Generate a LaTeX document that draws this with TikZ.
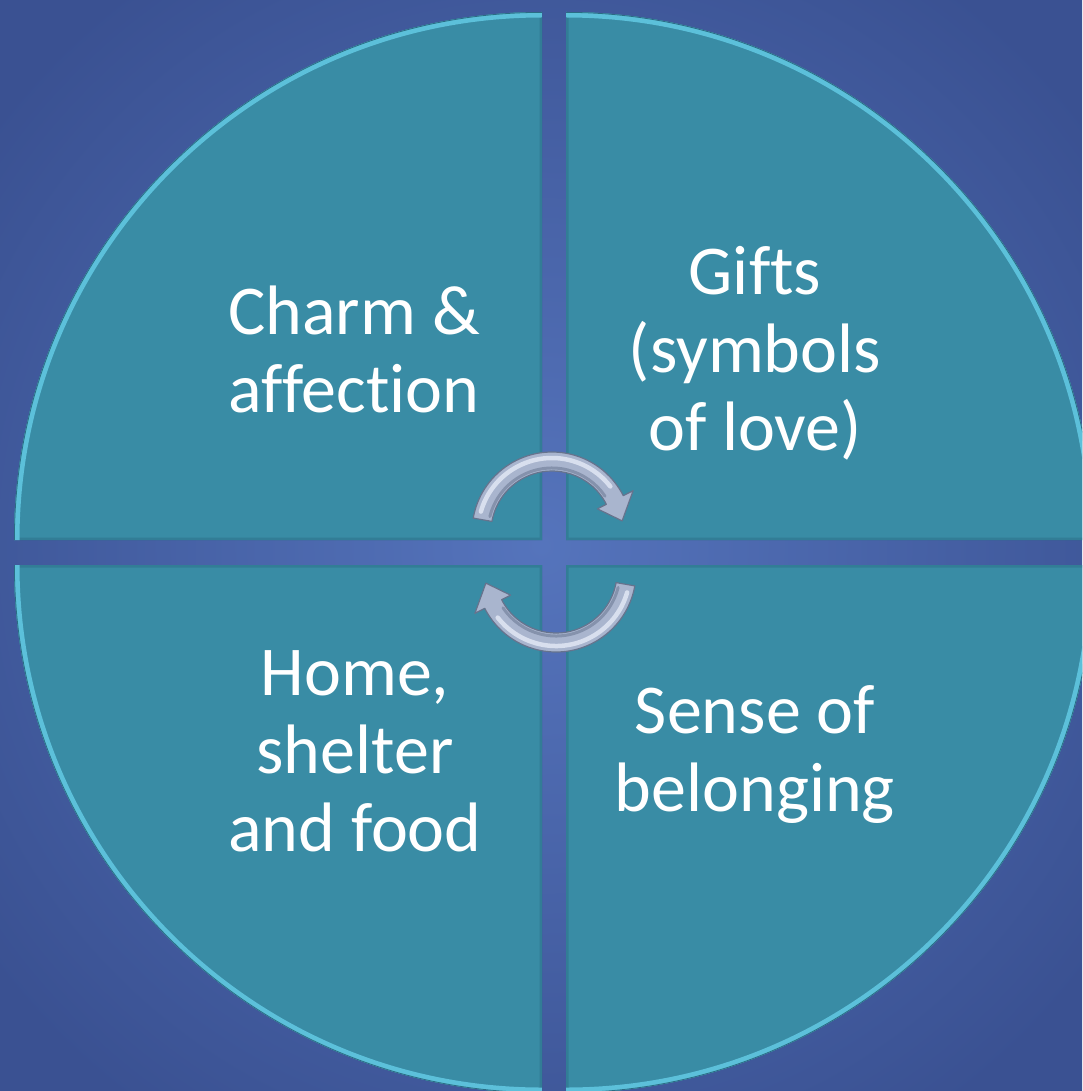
\documentclass[tikz,border=0pt]{standalone}
\usepackage{fontspec}
\setmainfont{Carlito}[Ligatures={NoCommon}]
\usetikzlibrary{calc}
\definecolor{bgin}{HTML}{5574BC}
\definecolor{bgout}{HTML}{3A5192}
\definecolor{quadc}{HTML}{398CA5}
\definecolor{rimc}{HTML}{5CC0DA}
\definecolor{edgec}{HTML}{2A6C84}
\definecolor{arrfill}{HTML}{A9B5CE}
\definecolor{arrhi}{HTML}{D8DFEE}
\definecolor{arrlo}{HTML}{8592AC}
\definecolor{arrline}{HTML}{66738D}
\begin{document}
\begin{tikzpicture}[x=1pt,y=-1pt,
  quadfill/.style={fill=quadc},
  qshadow/.style={fill=black,opacity=0.18},
  rimline/.style={draw=rimc,line width=11pt},
  rimedge/.style={draw=edgec,line width=1.6pt},
  flatedge/.style={draw=edgec,line width=5pt,opacity=0.45},
  qtext/.style={text=white,font=\fontsize{70}{78}\selectfont,align=center,anchor=base,inner sep=0pt},
  cyc/.style={fill=arrfill,draw=arrline,line width=1.2pt,line join=round},
  cychi/.style={draw=arrhi,line width=4.5pt,line cap=round},
  cyclo/.style={draw=arrlo,line width=3pt,line cap=round}]
\useasboundingbox (0,0) rectangle (1082,1091);
\clip (0,0) rectangle (1082,1091);
\shade[inner color=bgin,outer color=bgout] (-150,-150) rectangle (1232,1241);
% quadrant corners
\coordinate (c1) at (542,540);
\coordinate (c2) at (566,540);
\coordinate (c3) at (566,565);
\coordinate (c4) at (542,565);
\def\qtl{(c1) -- ++(-528,0) arc[start angle=180,end angle=270,radius=528] -- cycle}
\def\qtr{(c2) -- ++(0,-528) arc[start angle=270,end angle=360,radius=528] -- cycle}
\def\qbr{(c3) -- ++(528,0) arc[start angle=0,end angle=90,radius=528] -- cycle}
\def\qbl{(c4) -- ++(0,528) arc[start angle=90,end angle=180,radius=528] -- cycle}
% shadows
\foreach \q in {\qtl,\qtr,\qbr,\qbl}{
  \begin{scope}[shift={(2,3)}]\fill[qshadow] \q;\end{scope}
}
% quadrants with bevel rim
\foreach \q/\sa/\ea/\ca in {\qtl/180/270/c1,\qtr/270/360/c2,\qbr/0/90/c3,\qbl/90/180/c4}{
  \fill[quadfill] \q;
  \begin{scope}
    \clip \q;
    \draw[flatedge] \q;
    \draw[rimline] ($(\ca)+(\sa:528)$) arc[start angle=\sa,end angle=\ea,radius=528];
    \draw[rimedge] ($(\ca)+(\sa:528)$) arc[start angle=\sa,end angle=\ea,radius=528];
  \end{scope}
}
% cycle arrows
\coordinate (o1) at (552,532);
\coordinate (o2) at (556,572);
\path[cyc] ($(o1)+(190:80)$) arc[start angle=190,end angle=333,radius=80]
  -- ($(o1)+(333:91)$) -- ($(o1)+(351:71)$) -- ($(o1)+(333:51)$)
  -- ($(o1)+(333:61)$) arc[start angle=333,end angle=190,radius=61] -- cycle;
\draw[cyclo] ($(o1)+(194:64)$) arc[start angle=194,end angle=326,radius=64];
\draw[cychi] ($(o1)+(196:74)$) arc[start angle=196,end angle=322,radius=74];
\path[cyc] ($(o2)+(10:80)$) arc[start angle=10,end angle=153,radius=80]
  -- ($(o2)+(153:91)$) -- ($(o2)+(171:71)$) -- ($(o2)+(153:51)$)
  -- ($(o2)+(153:61)$) arc[start angle=153,end angle=10,radius=61] -- cycle;
\draw[cyclo] ($(o2)+(14:64)$) arc[start angle=14,end angle=146,radius=64];
\draw[cychi] ($(o2)+(16:74)$) arc[start angle=16,end angle=142,radius=74];
% texts (anchor = baseline of the last line)
\node[qtext] (charm) at (354,412) {Charm \&\\affection};
\node[qtext] (gifts) at (755,450) {Gifts\\(symbols\\of love)};
\node[qtext] (home) at (355,851) {Home,\\shelter\\and food};
\node[qtext] (sense) at (755,811) {Sense of\\belonging};
\end{tikzpicture}
\end{document}
